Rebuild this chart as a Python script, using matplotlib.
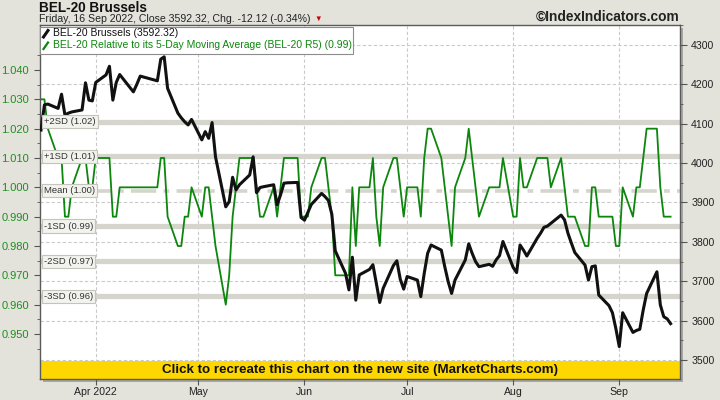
import datetime as dt
import matplotlib
matplotlib.use("Agg")
import matplotlib.pyplot as plt
from matplotlib.transforms import blended_transform_factory
from matplotlib.patches import Rectangle
from matplotlib.lines import Line2D
from matplotlib.ticker import FixedLocator

plt.rcParams['font.family'] = ['Liberation Sans', 'DejaVu Sans']

# ---------------- data ----------------
mar_days = [16, 17, 18, 21, 22, 23, 24, 25, 28, 29, 30, 31]
apr_days = [1, 4, 5, 6, 7, 8, 11, 12, 13, 14, 19, 20, 21, 22, 25, 26, 27, 28, 29]
may_days = [2, 3, 4, 5, 6, 9, 10, 11, 12, 13, 16, 17, 18, 19, 20, 23, 24, 25, 26, 27, 30, 31]
jun_days = [1, 2, 3, 6, 7, 8, 9, 10, 13, 14, 15, 16, 17, 20, 21, 22, 23, 24, 27, 28, 29, 30]
jul_days = [1, 4, 5, 6, 7, 8, 11, 12, 13, 14, 15, 18, 19, 20, 21, 22, 25, 26, 27, 28, 29]
aug_days = [1, 2, 3, 4, 5, 8, 9, 10, 11, 12, 15, 16, 17, 18, 19, 22, 23, 24, 25, 26, 29, 30, 31]
sep_days = [1, 2, 5, 6, 7, 8, 9, 12, 13, 14, 15, 16]

bel_mar = [4084, 4148, 4150, 4139, 4175, 4122, 4127, 4130, 4135, 4204, 4160, 4158]
bel_apr = [4205, 4224, 4246, 4160, 4205, 4225, 4192, 4181, 4200, 4221, 4209, 4264, 4270, 4190,
           4127, 4115, 4105, 4097, 4111]
bel_may = [4059, 4080, 4063, 4103, 4016, 3889, 3902, 3964, 3932, 3945, 3970, 4016, 3925, 3938,
           3940, 3945, 3894, 3919, 3949, 3950, 3951, 3862]
bel_jun = [3855, 3875, 3895, 3923, 3915, 3905, 3870, 3777, 3720, 3678, 3761, 3652, 3716, 3730,
           3742, 3695, 3646, 3682, 3740, 3752, 3705, 3680]
bel_jul = [3712, 3703, 3661, 3720, 3771, 3792, 3779, 3737, 3699, 3669, 3703, 3754, 3795, 3771,
           3750, 3737, 3743, 3738, 3754, 3765, 3801]
bel_aug = [3735, 3722, 3792, 3779, 3764, 3809, 3822, 3837, 3840, 3847, 3868, 3856, 3822, 3797,
           3773, 3741, 3703, 3737, 3739, 3665, 3638, 3620, 3580]
bel_sep = [3534, 3620, 3570, 3575, 3578, 3627, 3669, 3724, 3640, 3610, 3604.44, 3592.32]

r5_mar = [1.03, 1.03, 1.02, 1.01, 1.01, 0.99, 0.99, 1.00, 1.01, 1.01, 1.00, 1.00]
r5_apr = [1.01, 1.01, 1.01, 0.99, 0.99, 1.00, 1.00, 1.00, 1.00, 1.00, 1.00, 1.01, 1.01, 0.99,
          0.98, 0.98, 0.99, 0.99, 1.00]
r5_may = [0.99, 1.00, 1.00, 0.99, 0.98, 0.96, 0.97, 0.99, 1.00, 1.01, 1.01, 1.01, 1.00, 0.99,
          0.99, 1.00, 0.99, 1.00, 1.01, 1.01, 1.01, 0.99]
r5_jun = [0.99, 0.99, 1.00, 1.01, 1.01, 1.00, 0.99, 0.97, 0.97, 0.97, 1.00, 0.98, 1.00, 1.00,
          1.01, 0.99, 0.98, 1.00, 1.01, 1.01, 1.00, 0.99]
r5_jul = [1.00, 1.00, 0.99, 1.01, 1.02, 1.02, 1.01, 1.00, 0.99, 0.98, 1.00, 1.01, 1.02, 1.01,
          1.00, 0.99, 1.00, 1.00, 1.00, 1.00, 1.01]
r5_aug = [0.99, 0.99, 1.01, 1.00, 1.00, 1.01, 1.01, 1.01, 1.01, 1.00, 1.01, 1.00, 0.99, 0.99,
          0.99, 0.98, 0.98, 1.00, 1.00, 0.99, 0.99, 0.99, 0.98]
r5_sep = [0.98, 1.00, 0.99, 1.00, 1.00, 1.01, 1.02, 1.02, 1.00, 0.99, 0.99, 0.99]

band_names = ["+2SD", "+1SD", "Mean", "-1SD", "-2SD", "-3SD"]
band_levels = [1.0224, 1.0106, 0.9989, 0.9868, 0.9748, 0.9628]

month_labels = ["Apr 2022", "May", "Jun", "Jul", "Aug", "Sep"]
left_ticks = [0.95, 0.96, 0.97, 0.98, 0.99, 1.00, 1.01, 1.02, 1.03, 1.04]
right_ticks = [3500, 3600, 3700, 3800, 3900, 4000, 4100, 4200, 4300]

# ---------------- assemble ----------------
dates, bel, r5 = [], [], []
for m, days, b, g in [(3, mar_days, bel_mar, r5_mar), (4, apr_days, bel_apr, r5_apr),
                      (5, may_days, bel_may, r5_may), (6, jun_days, bel_jun, r5_jun),
                      (7, jul_days, bel_jul, r5_jul), (8, aug_days, bel_aug, r5_aug),
                      (9, sep_days, bel_sep, r5_sep)]:
    for d, bv, gv in zip(days, b, g):
        dates.append(dt.datetime(2022, m, d))
        bel.append(bv)
        r5.append(gv)

W, H = 720, 400
fig = plt.figure(figsize=(7.2, 4.0), dpi=100)
fig.patch.set_facecolor('#e3e3dc')


def fx(px):
    return px / W


def fy(py):
    return 1 - py / H


L, R, T, B = 40, 680, 25, 379
# shadow behind plot
fig.add_artist(Rectangle((fx(L + 3), fy(B + 3)), (R - L) / W, (B - T) / H,
                         transform=fig.transFigure, facecolor='#a8a8a2',
                         edgecolor='none', zorder=-1))

ax = fig.add_axes([fx(L), fy(B), (R - L) / W, (B - T) / H])
ax.set_facecolor('white')
ax2 = ax.twinx()

green = '#0c860c'
grid_c = '#c9c9c9'

# vertical month gridlines
month_starts = [dt.datetime(2022, m, 1) for m in range(4, 10)]
for d in month_starts:
    ax.axvline(d, color=grid_c, lw=0.8, ls=(0, (3, 2)), zorder=1)
# horizontal gridlines on the right-axis scale
btr = blended_transform_factory(ax.transAxes, ax2.transData)
for v in right_ticks:
    ax.add_line(Line2D([0, 1], [v, v], transform=btr, color=grid_c, lw=0.8,
                       ls=(0, (3, 2)), zorder=1))

# SD bands
band_c = '#d5d5cd'
for name, lev in zip(band_names, band_levels):
    if name == "Mean":
        ax.axhline(lev, color=band_c, lw=2.6, ls=(0, (7, 2, 1.6, 2)), zorder=2)
    else:
        ax.axhline(lev, color=band_c, lw=3.8, zorder=2)

ax.plot(dates, r5, color=green, lw=1.3, zorder=3)
ax2.plot(dates, bel, color='#111111', lw=2.2, zorder=3)

# band labels
ltr = blended_transform_factory(ax.transAxes, ax.transData)
for name, lev in zip(band_names, band_levels):
    ax2.text(0.006, lev, f"{name} ({lev:.2f})", transform=ltr, fontsize=6.8,
             va='center', ha='left', color='#333333', zorder=8,
             bbox=dict(boxstyle='square,pad=0.22', facecolor='#f3f3ee',
                       edgecolor='#c4c4bc', lw=0.8))

# yellow banner
ban_h = (B - 360.5) / (B - T)
ax.add_patch(Rectangle((0, 0), 1, ban_h, transform=ax.transAxes, facecolor='#ffd700',
                       edgecolor='none', zorder=7))
ax.text(0.5, ban_h / 2, "Click to recreate this chart on the new site (MarketCharts.com)",
        transform=ax.transAxes, ha='center', va='center', fontsize=9.6,
        fontweight='bold', color='#111111', zorder=8)

# limits
ax.set_xlim(dt.datetime(2022, 3, 15, 17), dt.datetime(2022, 9, 18, 18))
ax.set_ylim(0.93466, 1.05534)
ax2.set_ylim(3451.7, 4350.8)

# ticks
ax.set_xticks(month_starts)
ax.set_xticklabels(month_labels, fontsize=7.6, color='#222222')
ax.tick_params(axis='x', direction='out', length=4, pad=2, color='#555555')
ax.yaxis.set_major_locator(FixedLocator(left_ticks))
ax.yaxis.set_minor_locator(FixedLocator([x + 0.005 for x in [0.94] + left_ticks]))
ax.set_yticklabels([f"{v:.3f}" for v in left_ticks], fontsize=8.0, color='#1d8f1d')
ax.tick_params(axis='y', which='major', direction='out', length=4, pad=4, color='#555555')
ax.tick_params(axis='y', which='minor', direction='out', length=2.5, color='#555555')

ax2.yaxis.set_major_locator(FixedLocator(right_ticks))
ax2.yaxis.set_minor_locator(FixedLocator([v + 50 for v in [3400] + right_ticks]))
ax2.set_yticklabels([str(v) for v in right_ticks], fontsize=7.6, color='#222222')
ax2.tick_params(axis='y', which='major', direction='out', length=5, pad=3, color='#555555')
ax2.tick_params(axis='y', which='minor', direction='out', length=2.5, color='#555555')

for s in ax.spines.values():
    s.set_color('#5a5a5a')
    s.set_linewidth(1.0)
    s.set_zorder(10)
for s in ax2.spines.values():
    s.set_visible(False)

# titles
fig.text(fx(39), fy(7.5), "BEL-20 Brussels", fontsize=9.8, fontweight='bold',
         color='#111111', va='center', ha='left')
last, prev = bel[-1], bel[-2]
chg = last - prev
fig.text(fx(39), fy(18.5),
         f"Friday, 16 Sep 2022, Close {last:.2f}, Chg. {chg:.2f} ({chg / prev * 100:.2f}%)",
         fontsize=7.55, color='#222222', va='center', ha='left')
fig.text(fx(318), fy(19.5), "\u25BC", fontsize=5.5, color='#cc0000', ha='center', va='center')
fig.text(fx(679), fy(16.5), "\u00A9IndexIndicators.com", fontsize=9.9, fontweight='bold',
         color='#222222', ha='right', va='center')

# legend
fig.add_artist(Rectangle((fx(40), fy(54)), 313 / W, 27 / H, transform=fig.transFigure,
                         facecolor='white', edgecolor='#8c8c8c', lw=0.8, zorder=5))
fig.add_artist(Line2D([fx(43.5), fx(48)], [fy(37), fy(30.5)], transform=fig.transFigure,
                      color='#111111', lw=2.2, zorder=6))
fig.add_artist(Line2D([fx(43.5), fx(48)], [fy(49), fy(42.5)], transform=fig.transFigure,
                      color=green, lw=1.6, zorder=6))
fig.text(fx(53), fy(33.5), f"BEL-20 Brussels ({last:.2f})", fontsize=7.5,
         color='#111111', va='center', ha='left', zorder=6)
fig.text(fx(53), fy(45.5),
         f"BEL-20 Relative to its 5-Day Moving Average (BEL-20 R5) ({r5[-1]:.2f})",
         fontsize=7.5, color=green, va='center', ha='left', zorder=6)

fig.savefig("out.png", dpi=100, facecolor=fig.get_facecolor())
